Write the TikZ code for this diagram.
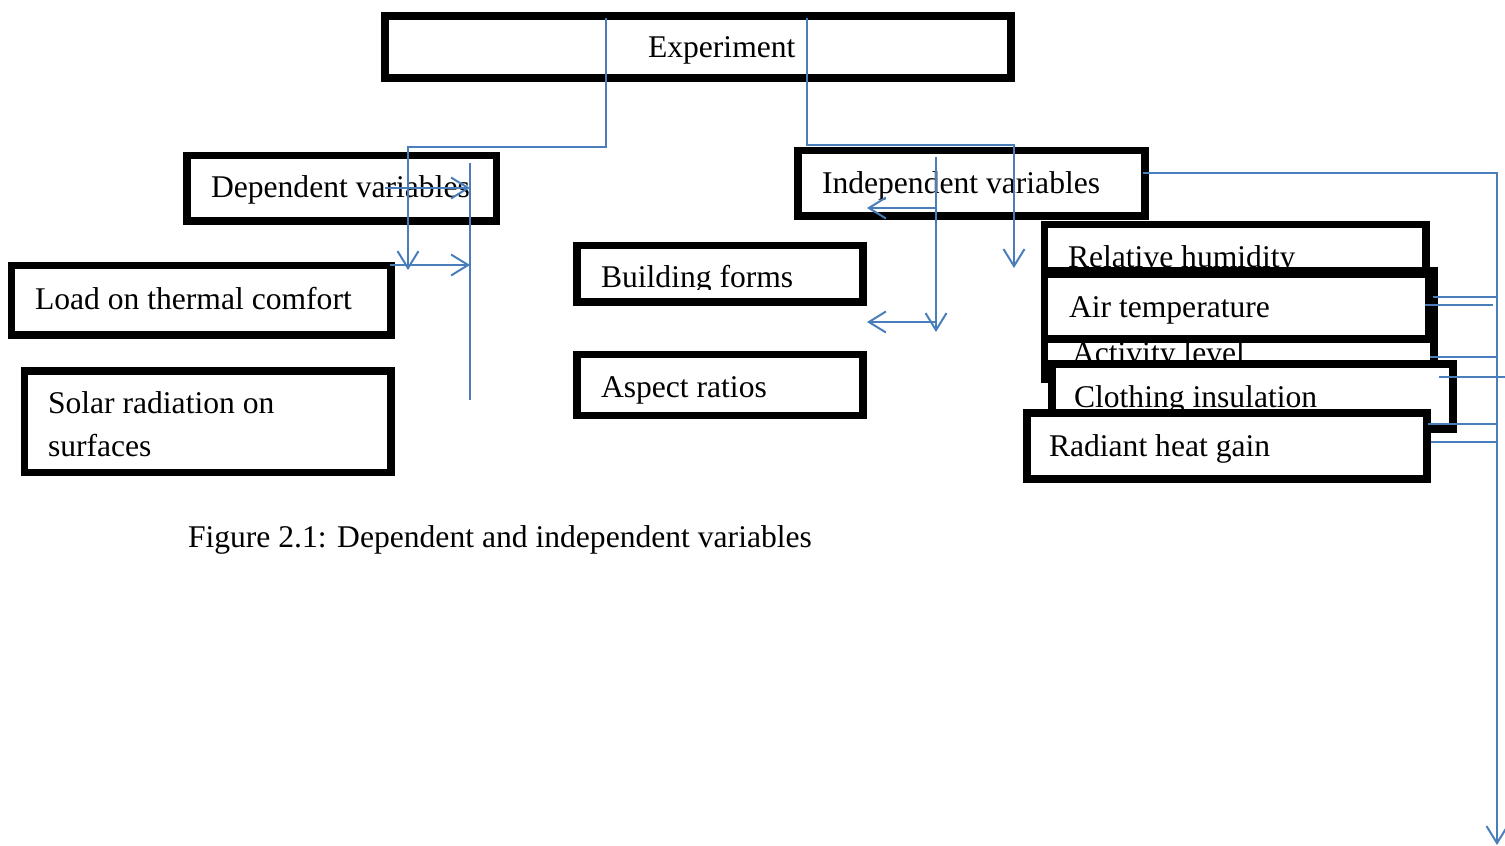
\documentclass[tikz,border=0pt]{standalone}
\usepackage{fontspec}
\setmainfont{Liberation Serif}
\usetikzlibrary{arrows.meta}
\definecolor{wblue}{HTML}{4A7EBB}
\begin{document}
\begin{tikzpicture}[x=1pt,y=-1pt,
  boxst/.style={draw=black, line width=7.5pt, fill=white, rectangle, inner sep=0pt, outer sep=0pt},
  txt/.style={anchor=base west, inner sep=0pt, outer sep=0pt, align=left, font=\fontsize{31.6pt}{43pt}\selectfont},
  conn/.style={draw=wblue, line width=2pt},
  arr/.style={conn, -{Straight Barb[length=17pt,width=21pt]}}]
\useasboundingbox (0,0) rectangle (1505,846);

% left and centre boxes
\node[boxst, minimum width=626pt, minimum height=62pt] (exp) at (698,47) {};
\node[txt] (expt) at (648,57) {Experiment};
\node[boxst, minimum width=309.5pt, minimum height=65.5pt] (dep) at (341.75,188.25) {};
\node[txt] (dept) at (211,197) {Dependent variables};
\node[boxst, minimum width=347pt, minimum height=65.5pt] (ind) at (971.5,183.25) {};
\node[txt] (indt) at (822,193) {Independent variables};
\node[boxst, minimum width=379.5pt, minimum height=69.5pt] (load) at (201.25,300.25) {};
\node[txt] (loadt) at (35,309) {Load on thermal comfort};
\node[boxst, minimum width=366.5pt, minimum height=101.5pt] (sol) at (207.75,421.75) {};
\node[txt] (solt) at (48,456) {Solar radiation on\\surfaces};
\node[boxst, minimum width=286pt, minimum height=56.5pt] (bf) at (720,273.75) {};
\begin{scope}
\clip (581,249) rectangle (859,289.5);
\node[txt] (bft) at (601,287) {Building forms};
\end{scope}
\node[boxst, minimum width=286pt, minimum height=61pt] (ar) at (720,385) {};
\node[txt] (art) at (601,397) {Aspect ratios};

% right stack of boxes
\node[boxst, minimum width=381.5pt, minimum height=65.5pt] (rh) at (1235.25,257.25) {};
\node[txt] (rht) at (1068,267) {Relative humidity};
\node[boxst, minimum width=389.5pt, minimum height=108pt] (act) at (1239.25,325) {};
\node[txt] (actt) at (1072,363) {Activity level};
\node[boxst, minimum width=384.5pt, minimum height=65pt] (air) at (1236.75,306.5) {};
\node[txt] (airt) at (1069,317) {Air temperature};
\node[boxst, minimum width=401pt, minimum height=65pt] (clo) at (1252.5,396.5) {};
\node[txt] (clot) at (1074,407) {Clothing insulation};
\node[boxst, minimum width=400pt, minimum height=66pt] (rad) at (1227,446) {};
\node[txt] (radt) at (1049,456) {Radiant heat gain};

% caption
\node[txt] (cap) at (188,547) {Figure 2.1: Dependent and independent variables};

% blue connectors
\coordinate (a1) at (606,18);
\coordinate (a2) at (606,147);
\coordinate (a3) at (408,147);
\coordinate (a4) at (408,270);
\draw[arr] (a1) -- (a2) -- (a3) -- (a4);

\coordinate (b1) at (385,188);
\coordinate (b2) at (470,188);
\draw[arr] (b1) -- (b2);
\coordinate (c1) at (470,163);
\coordinate (c2) at (470,400);
\draw[conn] (c1) -- (c2);
\coordinate (d1) at (390,265);
\coordinate (d2) at (470,265);
\draw[arr] (d1) -- (d2);

\coordinate (e1) at (807,18);
\coordinate (e2) at (807,145);
\coordinate (e3) at (1014,145);
\coordinate (e4) at (1014,268);
\draw[arr] (e1) -- (e2) -- (e3) -- (e4);

\coordinate (f1) at (936,157);
\coordinate (f2) at (936,332);
\draw[arr] (f1) -- (f2);
\coordinate (g1) at (936,208);
\coordinate (g2) at (867,208);
\draw[arr] (g1) -- (g2);
\coordinate (h1) at (936,322);
\coordinate (h2) at (867,322);
\draw[arr] (h1) -- (h2);

\coordinate (k1) at (1143,173);
\coordinate (k2) at (1497,173);
\coordinate (k3) at (1497,845);
\draw[arr] (k1) -- (k2) -- (k3);

\coordinate (m1) at (1433,297);
\coordinate (m2) at (1497,297);
\draw[conn] (m1) -- (m2);
\coordinate (n1) at (1425,305);
\coordinate (n2) at (1493,305);
\draw[conn] (n1) -- (n2);
\coordinate (p1) at (1430,357);
\coordinate (p2) at (1497,357);
\draw[conn] (p1) -- (p2);
\coordinate (q1) at (1439,377);
\coordinate (q2) at (1505,377);
\draw[conn] (q1) -- (q2);
\coordinate (r1) at (1428,424);
\coordinate (r2) at (1497,424);
\draw[conn] (r1) -- (r2);
\coordinate (s1) at (1431,442);
\coordinate (s2) at (1497,442);
\draw[conn] (s1) -- (s2);
\end{tikzpicture}
\end{document}
